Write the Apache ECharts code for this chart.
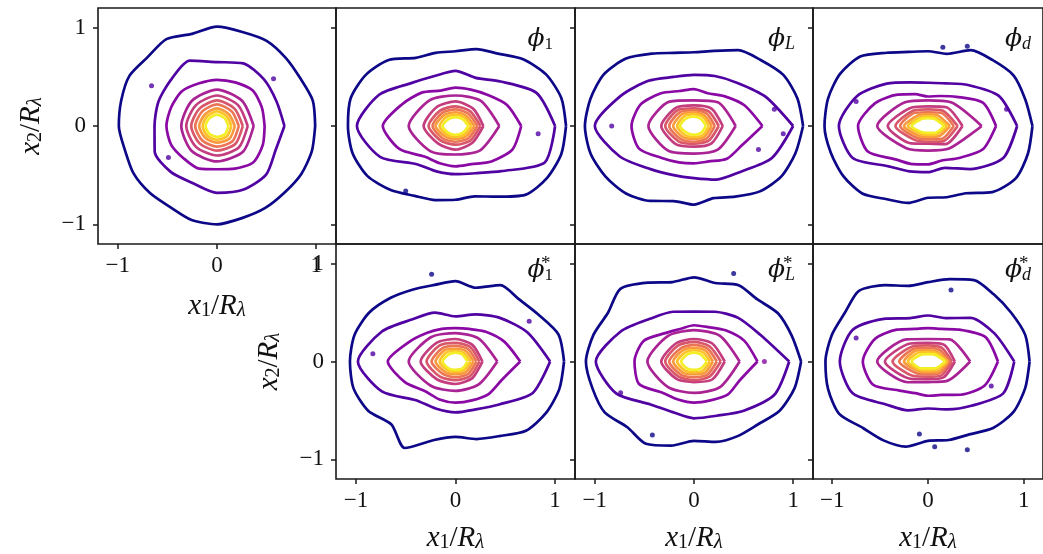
<!DOCTYPE html>
<html>
<head>
<meta charset="utf-8">
<script src="https://cdn.jsdelivr.net/npm/echarts@6/dist/echarts.min.js"></script>
<style>
html,body{margin:0;padding:0;background:#fff;}
#chart{width:1043px;height:554px;}
</style>
</head>
<body>
<div id="chart"></div>
<script>
// ---- DATA ----
// Contour levels: radius (in units of R_lambda) sampled at equally spaced angles, starting at +x and going counter-clockwise.
// Each panel: [L1 (outermost), L2, ..., L10 (innermost)]
const ticks = [-1, 0, 1];
const panelLabels = ['', '1', 'L', 'd', '1', 'L', 'd'];
const panelStars = [false, false, false, false, true, true, true];
const levelColors = ['#0d0887','#5002a2','#8a09a5','#aa2395','#c43e7f','#d8576b','#eb7655','#f99a3e','#fdc22a','#f3ee27'];

const ref_contours = [
  [0.99,1.0,0.97,0.98,1.0,0.99,1.01,0.97,1.02,0.99,1.02,1.0,0.99,0.96,0.97,0.96,0.95,0.99,1.0,0.97,0.965,0.96,0.98,0.99],
  [0.68,0.65,0.67,0.69,0.65,0.72,0.66,0.64,0.63,0.68,0.66,0.63,0.68,0.70,0.70,0.64],
  [0.48,0.49,0.51,0.48,0.47,0.47,0.5,0.5,0.51,0.5,0.47,0.47,0.44,0.47,0.52,0.5],
  [0.37,0.36,0.37,0.36,0.36,0.36,0.36,0.37],
  [0.31,0.3,0.31,0.3,0.31,0.3,0.3,0.31],
  [0.26,0.25,0.26,0.25,0.26,0.25,0.25,0.26],
  [0.22,0.21,0.22,0.21,0.22,0.21,0.21,0.22],
  [0.18,0.17,0.18,0.17,0.18,0.17,0.17,0.18],
  [0.145,0.14,0.15,0.14,0.145,0.14,0.14,0.145],
  [0.115,0.11,0.115,0.11,0.115,0.11,0.11,0.115]
];
const phi1_contours = [
  [1.11,1.1,1.05,0.96,0.85,0.81,0.76,0.77,0.8,0.95,1.04,1.09,1.08,1.07,1.02,0.92,0.82,0.78,0.75,0.74,0.83,0.99,1.06,1.1],
  [1.0,0.88,0.64,0.53,0.56,0.55,0.62,0.83,0.99,0.82,0.55,0.5,0.49,0.52,0.65,0.97],
  [0.66,0.56,0.45,0.4,0.39,0.39,0.48,0.58,0.73,0.61,0.44,0.41,0.41,0.42,0.51,0.62],
  [0.44,0.36,0.31,0.37,0.47,0.36,0.29,0.35],
  [0.28,0.25,0.25,0.27,0.32,0.25,0.24,0.24],
  [0.25,0.21,0.2,0.22,0.27,0.21,0.19,0.21],
  [0.22,0.18,0.17,0.19,0.23,0.18,0.16,0.18],
  [0.19,0.15,0.14,0.16,0.2,0.15,0.13,0.15],
  [0.16,0.125,0.115,0.13,0.16,0.125,0.11,0.125],
  [0.13,0.1,0.09,0.1,0.13,0.1,0.09,0.1]
];
const phiL_contours = [
  [1.10,1.08,1.04,0.95,0.89,0.79,0.75,0.77,0.85,0.97,1.05,1.08,1.10,1.08,1.03,0.97,0.88,0.79,0.8,0.76,0.83,0.94,1.02,1.06],
  [1.0,0.78,0.62,0.55,0.52,0.54,0.65,0.8,1.0,0.81,0.62,0.54,0.53,0.59,0.66,0.85],
  [0.69,0.55,0.43,0.36,0.375,0.385,0.47,0.58,0.63,0.6,0.46,0.4,0.38,0.39,0.47,0.52],
  [0.42,0.34,0.26,0.35,0.46,0.36,0.28,0.34],
  [0.29,0.25,0.21,0.26,0.33,0.26,0.21,0.25],
  [0.25,0.21,0.18,0.23,0.29,0.22,0.18,0.21],
  [0.21,0.18,0.16,0.2,0.25,0.19,0.16,0.18],
  [0.18,0.15,0.14,0.17,0.21,0.16,0.13,0.15],
  [0.15,0.13,0.12,0.14,0.17,0.13,0.11,0.13],
  [0.12,0.1,0.095,0.11,0.14,0.1,0.09,0.1]
];
const phid_contours = [
  [1.09,1.05,1.03,0.95,0.89,0.76,0.76,0.78,0.86,1.0,1.06,1.08,1.08,1.05,1.02,0.97,0.86,0.81,0.73,0.75,0.79,0.95,1.06,1.08],
  [0.93,0.8,0.59,0.47,0.44,0.48,0.61,0.8,0.93,0.85,0.58,0.5,0.47,0.46,0.62,0.85],
  [0.71,0.62,0.42,0.33,0.3,0.35,0.45,0.6,0.73,0.68,0.48,0.42,0.39,0.38,0.46,0.62],
  [0.56,0.34,0.26,0.34,0.53,0.32,0.25,0.32],
  [0.36,0.27,0.2,0.26,0.42,0.25,0.18,0.26],
  [0.31,0.22,0.17,0.22,0.34,0.2,0.16,0.22],
  [0.27,0.19,0.14,0.19,0.29,0.17,0.135,0.19],
  [0.23,0.15,0.12,0.15,0.25,0.14,0.11,0.15],
  [0.2,0.12,0.1,0.12,0.21,0.11,0.09,0.12],
  [0.17,0.1,0.08,0.1,0.17,0.09,0.07,0.1]
];
const phi1s_contours = [
  [1.09,1.07,0.96,0.9,0.9,0.78,0.82,0.81,0.85,0.92,1.0,1.05,1.06,1.06,1.01,0.91,1.02,0.83,0.77,0.82,0.88,1.0,1.05,1.08],
  [0.95,0.78,0.63,0.52,0.46,0.54,0.61,0.8,0.98,0.8,0.56,0.52,0.52,0.53,0.62,0.84],
  [0.65,0.53,0.43,0.36,0.34,0.36,0.41,0.51,0.68,0.55,0.43,0.42,0.42,0.43,0.47,0.5],
  [0.42,0.33,0.29,0.35,0.47,0.35,0.3,0.33],
  [0.27,0.24,0.23,0.27,0.35,0.26,0.23,0.24],
  [0.24,0.21,0.19,0.23,0.29,0.22,0.19,0.21],
  [0.21,0.18,0.16,0.19,0.24,0.18,0.16,0.18],
  [0.18,0.15,0.13,0.16,0.2,0.15,0.13,0.15],
  [0.15,0.12,0.11,0.13,0.16,0.12,0.105,0.12],
  [0.12,0.1,0.09,0.1,0.13,0.1,0.085,0.1]
];
const phiLs_contours = [
  [1.08,1.02,0.98,0.9,0.9,0.83,0.86,0.84,0.93,1.05,1.0,1.05,1.09,1.06,1.04,0.95,0.97,0.89,0.81,0.85,0.88,0.91,1.0,1.05],
  [0.96,0.72,0.63,0.55,0.51,0.55,0.62,0.8,0.99,0.85,0.62,0.56,0.58,0.6,0.71,0.88],
  [0.64,0.55,0.45,0.38,0.37,0.36,0.41,0.55,0.6,0.6,0.45,0.42,0.42,0.43,0.48,0.5],
  [0.46,0.37,0.32,0.37,0.47,0.37,0.32,0.37],
  [0.31,0.26,0.23,0.26,0.33,0.25,0.21,0.26],
  [0.27,0.22,0.2,0.23,0.29,0.22,0.19,0.22],
  [0.23,0.19,0.17,0.19,0.25,0.19,0.16,0.19],
  [0.19,0.16,0.14,0.16,0.21,0.16,0.13,0.16],
  [0.16,0.13,0.115,0.13,0.17,0.13,0.11,0.13],
  [0.13,0.1,0.09,0.1,0.13,0.1,0.085,0.1]
];
const phids_contours = [
  [1.06,1.05,1.0,0.97,0.96,0.87,0.81,0.8,0.9,1.02,1.0,1.04,1.07,1.08,1.07,0.96,0.93,0.9,0.81,0.83,0.86,0.96,1.03,1.05],
  [0.9,0.75,0.63,0.48,0.47,0.48,0.62,0.85,0.92,0.85,0.62,0.54,0.48,0.53,0.64,0.85],
  [0.73,0.65,0.46,0.36,0.34,0.36,0.46,0.6,0.68,0.62,0.42,0.35,0.35,0.37,0.48,0.64],
  [0.44,0.32,0.23,0.32,0.53,0.3,0.21,0.28],
  [0.28,0.24,0.19,0.26,0.45,0.25,0.18,0.23],
  [0.25,0.2,0.165,0.22,0.37,0.21,0.155,0.2],
  [0.23,0.17,0.14,0.19,0.3,0.17,0.13,0.17],
  [0.21,0.14,0.115,0.16,0.25,0.14,0.11,0.15],
  [0.2,0.12,0.095,0.13,0.21,0.12,0.09,0.12],
  [0.18,0.1,0.075,0.1,0.17,0.1,0.07,0.1]
];
// small isolated contour islands: [x, y, level]
const ref_dots = [[-0.66,0.41,1],[0.57,0.48,1],[-0.49,-0.32,1]];
const phi1_dots = [[-0.5,-0.66,0],[0.83,-0.08,1]];
const phiL_dots = [[-0.83,0.0,1],[0.81,0.17,1],[0.9,-0.08,1],[0.65,-0.24,1]];
const phid_dots = [[0.155,0.8,0],[0.41,0.81,0],[-0.75,0.25,1],[0.82,0.17,1]];
const phi1s_dots = [[-0.24,0.89,0],[-0.83,0.08,1],[0.74,0.41,1]];
const phiLs_dots = [[0.4,0.9,0],[0.71,0.0,2],[-0.74,-0.32,1],[-0.42,-0.75,0]];
const phids_dots = [[0.24,0.73,0],[-0.75,0.24,1],[0.66,-0.25,1],[-0.09,-0.74,0],[0.41,-0.9,0],[0.07,-0.87,0]];

const panels = [ref_contours, phi1_contours, phiL_contours, phid_contours, phi1s_contours, phiLs_contours, phids_contours];
const dots = [ref_dots, phi1_dots, phiL_dots, phid_dots, phi1s_dots, phiLs_dots, phids_dots];

// ---- LAYOUT ----
const grids = [
  {left:98, top:8, width:238, height:236},
  {left:336, top:8, width:239, height:236},
  {left:575, top:8, width:238, height:236},
  {left:813, top:8, width:238, height:236},
  {left:336, top:244, width:239, height:237},
  {left:575, top:244, width:238, height:237},
  {left:813, top:244, width:238, height:237}
];
const showXTicks = [true,false,false,false,true,true,true];
const showYLabels = [true,false,false,false,true,false,false];

const SERIF = "'Liberation Serif','DejaVu Serif',serif";
const MATH = "'DejaVu Serif','Liberation Serif',serif";
const mathRich = {
  i: {fontFamily: SERIF, fontStyle:'italic', fontSize:29, lineHeight:30, color:'#111'},
  n: {fontFamily: SERIF, fontSize:29, lineHeight:30, color:'#111'},
  sub: {fontFamily: SERIF, fontSize:20, lineHeight:20, verticalAlign:'bottom', color:'#111'},
  subi: {fontFamily: SERIF, fontStyle:'italic', fontSize:21, lineHeight:20, verticalAlign:'bottom', color:'#111'}
};
function fmt(v){ return v < 0 ? '\u2212' + Math.abs(v) : String(v); }

const xAxes = [], yAxes = [], series = [];
grids.forEach((g, p) => {
  const bottomRow = p >= 4;
  xAxes.push({
    gridIndex:p, type:'value', min:-1.2, max:1.2,
    axisLine:{show:false, onZero:false}, splitLine:{show:false},
    axisTick:{show:showXTicks[p], inside:false, length:5, customValues:ticks, lineStyle:{color:'#1a1a1a', width:1.5}},
    axisLabel:{show:showXTicks[p], customValues:ticks, formatter:fmt, margin:10, fontFamily:SERIF, fontSize:23, color:'#111'},
    name: showXTicks[p] ? '{i|x}{sub|1}{n|/}{i|R}{subi|λ}' : '',
    nameLocation:'middle', nameGap: bottomRow ? 44 : 47,
    nameTextStyle:{rich: mathRich}
  });
  yAxes.push({
    gridIndex:p, type:'value', min:-1.2, max:1.2,
    axisLine:{show:false, onZero:false}, splitLine:{show:false},
    axisTick:{show:true, inside:false, length:5, customValues:ticks, lineStyle:{color:'#1a1a1a', width:1.5}},
    axisLabel:{show:showYLabels[p], customValues:ticks, formatter:fmt, margin:12, fontFamily:SERIF, fontSize:23, color:'#111'},
    name: showYLabels[p] ? '{i|x}{sub|2}{n|/}{i|R}{subi|λ}' : '',
    nameLocation:'middle', nameGap: 52, nameRotate:90,
    nameTextStyle:{rich: mathRich}
  });
  panels[p].forEach((radii, l) => {
    const n = radii.length;
    const pts = radii.map((r, k) => {
      const a = 2 * Math.PI * k / n;
      return [r * Math.cos(a), r * Math.sin(a)];
    });
    pts.push(pts[0]);
    series.push({
      type:'line', xAxisIndex:p, yAxisIndex:p, data:pts,
      showSymbol:false, symbol:'none', smooth:0.25, silent:true, animation:false,
      z: 2 + l,
      lineStyle:{color:levelColors[l], width:2.7, join:'round'}
    });
  });
  series.push({
    type:'scatter', xAxisIndex:p, yAxisIndex:p, silent:true, animation:false,
    data: dots[p].map(d => ({value:[d[0], d[1]], itemStyle:{color:levelColors[d[2]]}})),
    symbolSize:5, z:2
  });
});

// panel labels (text)
const graphics = [];
const labelRight = [0, 553, 795, 1031, 553, 795, 1031];
grids.forEach((g, p) => {
  if (!panelLabels[p]) return;
  const y = g.top + (p >= 4 ? 14 : 19);
  const italicSub = panelLabels[p] !== '1';
  graphics.push({
    type:'text', right: 1043 - labelRight[p], top: y, silent:true,
    style:{
      text:'{p|\u03D5}{' + (italicSub ? 'si' : 's') + '|' + panelLabels[p] + '}',
      rich:{
        p:{fontFamily:MATH, fontStyle:'italic', fontSize:25, lineHeight:28, fill:'#111'},
        s:{fontFamily:SERIF, fontSize:17, lineHeight:18, verticalAlign:'bottom', fill:'#111'},
        si:{fontFamily:SERIF, fontStyle:'italic', fontSize:18, lineHeight:18, verticalAlign:'bottom', fill:'#111'}
      }
    }
  });
  if (panelStars[p]) {
    graphics.push({
      type:'text', left: labelRight[p] - 12, top: y - 3, silent:true,
      style:{text:'*', fontFamily:SERIF, fontSize:19, fill:'#111'}
    });
  }
});

const chart = echarts.init(document.getElementById('chart'), null, {renderer:'canvas'});
chart.setOption({
  backgroundColor:'#fff',
  animation:false,
  grid: grids.map(g => Object.assign({show:true, borderColor:'#1a1a1a', borderWidth:1.6, backgroundColor:'transparent'}, g)),
  xAxis: xAxes,
  yAxis: yAxes,
  series: series,
  graphic: graphics
});
</script>
</body>
</html>
